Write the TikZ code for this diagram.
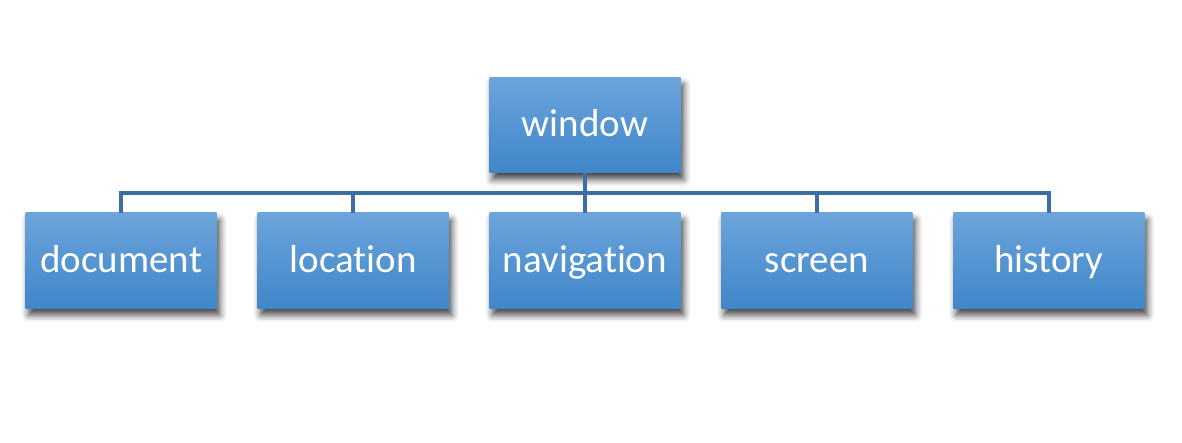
\documentclass[tikz,border=0pt]{standalone}
\usepackage{fontspec}
\setmainfont[RawFeature={-liga}]{Carlito}
\usepackage{xcolor}
\definecolor{BOXTOP}{HTML}{6CA4DC}
\definecolor{BOXBOTTOM}{HTML}{3F86C9}
\definecolor{LINKCOLOR}{HTML}{3B6FA1}
\usetikzlibrary{positioning,shadows.blur}
\tikzset{
  box-style/.style = {
    rectangle, draw=none,
    top color=BOXTOP, bottom color=BOXBOTTOM,
    text=white,
    minimum width=191pt,
    minimum height=95pt,
    inner sep=0pt,
    text height=30pt, text depth=6pt,
    font=\fontsize{39}{46}\selectfont,
    blur shadow={shadow xshift=3pt, shadow yshift=-7pt,
      shadow blur radius=7pt, shadow opacity=75}
  },
  link-style/.style = {
    draw=LINKCOLOR, line width=4pt
  }
}
\newlength\childDistance
\setlength\childDistance{40.5pt}
\begin{document}
\begin{tikzpicture}
  \useasboundingbox (0,0) rectangle (1182pt,442pt);
  \node[box-style] (window) at (585pt,317pt) {window};

  \node[box-style] (navigation) at (585pt,181.5pt) {navigation};
  \node[box-style, left=\childDistance of navigation] (location) {location};
  \node[box-style, left=\childDistance of location] (document) {document};
  \node[box-style, right=\childDistance of navigation] (screen) {screen};
  \node[box-style, right=\childDistance of screen] (history) {history};

  \coordinate[below=20.5pt of window.south] (bus);
  \foreach \child in {document,location,navigation,screen,history}
    \draw[link-style] (window.south) -- (bus) -| (\child.north);
\end{tikzpicture}
\end{document}
